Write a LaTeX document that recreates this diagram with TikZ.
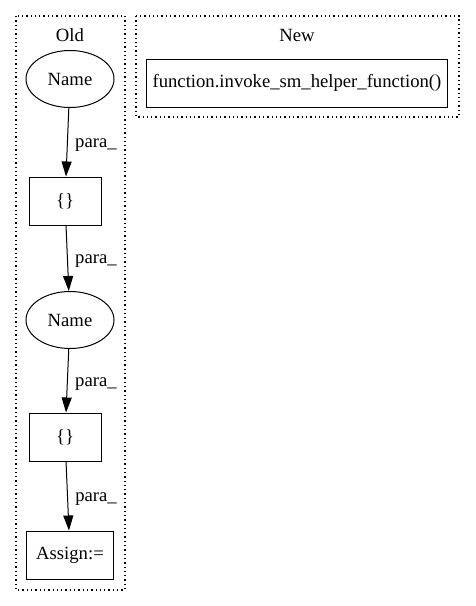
\documentclass[tikz,border=0pt]{standalone}
\usepackage{fontspec}
\setmainfont{Liberation Serif}
\usetikzlibrary{positioning,arrows.meta,shapes.geometric}

\begin{document}
\begin{tikzpicture}[x=1pt,y=-1pt,->,>={Triangle[length=15pt,width=10pt]},
   line width=1pt,
   every node/.style={font=\fontsize{18.67}{22}\selectfont},
   namenode/.style={draw,ellipse,minimum width=88pt,minimum height=57pt,inner sep=0pt},
   boxnode/.style={draw,rectangle,minimum height=48pt,inner sep=0pt},
   cluster/.style={draw,line width=1.3pt,dash pattern=on 1.3pt off 3pt},
   lbl/.style={right,xshift=4pt,yshift=-3pt}]
  \useasboundingbox (0,0) rectangle (475,606);
  % clusters
  \draw[-,cluster] (16,16) rectangle (125,590);
  \draw[-,cluster] (136,16) rectangle (459,117);
  \node at (70,35) {Old};
  \node at (297,35) {New};
  % nodes
  \node[namenode] (n1) at (70,79) {Name};
  \node[boxnode,minimum width=72pt] (b1) at (65,201) {\{\}};
  \node[namenode] (n2) at (70,320) {Name};
  \node[boxnode,minimum width=72pt] (b2) at (65,437) {\{\}};
  \node[boxnode,minimum width=87pt] (asg) at (70,555) {Assign:=};
  \node[boxnode,minimum width=301pt] (fn) at (297,83) {function.invoke\_sm\_helper\_function()};
  % edges
  \path
   (n1) edge node[lbl]{para\_} (b1)
   (b1) edge node[lbl]{para\_} (n2)
   (n2) edge node[lbl]{para\_} (b2)
   (b2) edge node[lbl]{para\_} (asg);
\end{tikzpicture}
\end{document}
